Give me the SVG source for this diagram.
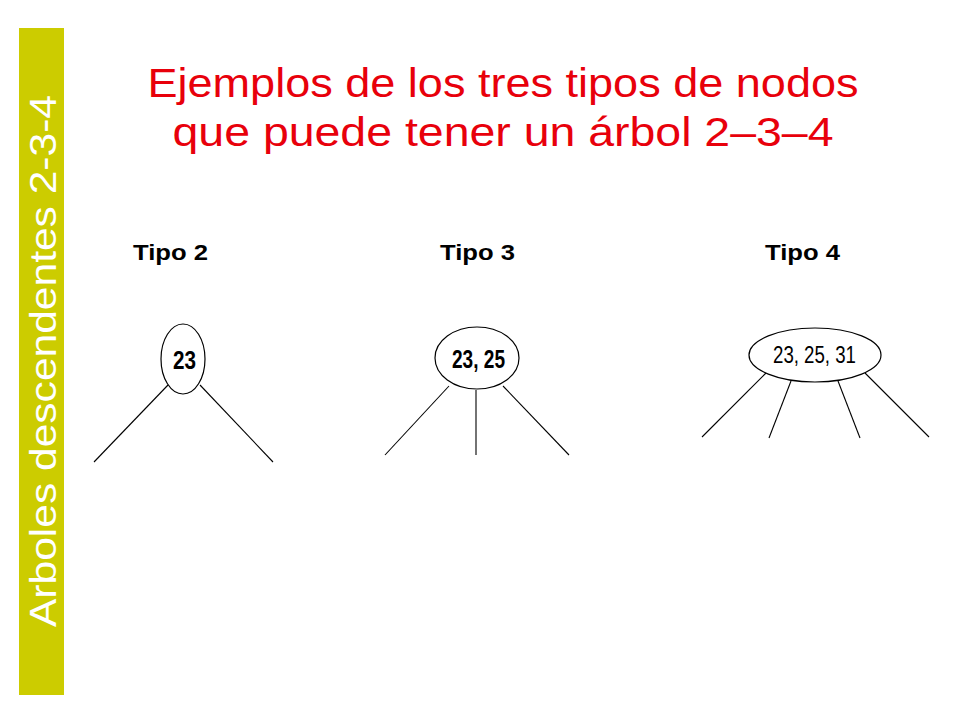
<svg xmlns="http://www.w3.org/2000/svg" width="960" height="720" viewBox="0 0 960 720">
<style>
.title{font-family:"Liberation Sans","DejaVu Sans",sans-serif;font-size:40px;fill:#E8000B;text-anchor:middle}
.tipo{font-family:"Liberation Sans","DejaVu Sans",sans-serif;font-size:22px;font-weight:bold;fill:#000}
.node ellipse{fill:#fff;stroke:#000;stroke-width:1.2}
.key{font-family:"Liberation Sans","DejaVu Sans",sans-serif;font-size:26px;font-weight:bold;fill:#000;text-anchor:middle}
.key3{font-family:"Liberation Sans","DejaVu Sans",sans-serif;font-size:24px;fill:#000;text-anchor:middle}
#connectors line{stroke:#000;stroke-width:1.1}
</style>
<rect width="960" height="720" fill="#fff"/>
<rect x="19" y="28" width="45" height="667" fill="#CCCC00"/>
<text transform="translate(56,627) rotate(-90)" font-family="Liberation Sans, DejaVu Sans, sans-serif" font-size="36" fill="#fff" textLength="532" lengthAdjust="spacingAndGlyphs">Arboles  descendentes 2-3-4</text>
<text class="title" x="503" y="97" textLength="711" lengthAdjust="spacingAndGlyphs">Ejemplos de los tres tipos de nodos</text>
<text class="title" x="503" y="146" textLength="661" lengthAdjust="spacingAndGlyphs">que puede tener un árbol 2–3–4</text>
<text class="tipo" x="133" y="260" textLength="75" lengthAdjust="spacingAndGlyphs">Tipo 2</text>
<text class="tipo" x="440" y="260" textLength="75" lengthAdjust="spacingAndGlyphs">Tipo 3</text>
<text class="tipo" x="765" y="260" textLength="75" lengthAdjust="spacingAndGlyphs">Tipo 4</text>
<g id="connectors">
<line x1="168" y1="385" x2="94" y2="462"/>
<line x1="200" y1="385" x2="273" y2="462"/>
<line x1="449" y1="386" x2="385" y2="455"/>
<line x1="476" y1="390" x2="476" y2="455"/>
<line x1="503" y1="386" x2="569" y2="455"/>
<line x1="766" y1="373" x2="702" y2="437"/>
<line x1="791" y1="381" x2="769" y2="438"/>
<line x1="838" y1="381" x2="860" y2="438"/>
<line x1="865" y1="373" x2="929" y2="437"/>
</g>
<g id="node1" class="node">
<ellipse cx="183" cy="359" rx="22" ry="35"/>
<text class="key" x="184.5" y="369" textLength="23" lengthAdjust="spacingAndGlyphs">23</text>
</g>
<g id="node2" class="node">
<ellipse cx="477" cy="358" rx="42" ry="31"/>
<text class="key" x="478.5" y="368" textLength="53" lengthAdjust="spacingAndGlyphs">23, 25</text>
</g>
<g id="node3" class="node">
<ellipse cx="815" cy="355" rx="66" ry="27"/>
<text class="key3" x="814.5" y="363" textLength="83" lengthAdjust="spacingAndGlyphs">23, 25, 31</text>
</g>
</svg>
